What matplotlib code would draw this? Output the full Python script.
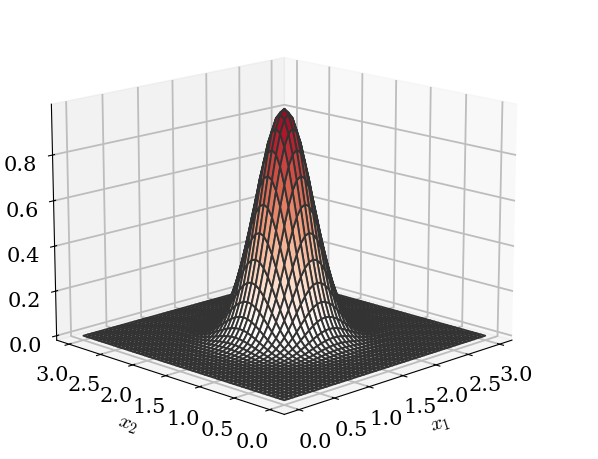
import numpy as np
import matplotlib
matplotlib.use("Agg")
import matplotlib.pyplot as plt

plt.rcParams['font.family'] = 'DejaVu Serif'
plt.rcParams['mathtext.fontset'] = 'cm'

# grid positions along x1 and x2
grid = [round(0.06 * i, 2) for i in range(51)]

# height of the bump along its centre line (centre to edge)
half_profile = [1.0, 0.98, 0.923, 0.835, 0.726, 0.607, 0.487, 0.375, 0.278, 0.198, 0.135,
                0.089, 0.056, 0.034, 0.02, 0.011, 0.006, 0.003, 0.002, 0.001, 0.0,
                0.0, 0.0, 0.0, 0.0, 0.0]
profile = half_profile[:0:-1] + half_profile

x_ticks = [0.0, 0.5, 1.0, 1.5, 2.0, 2.5, 3.0]
z_ticks = [0.0, 0.2, 0.4, 0.6, 0.8]

X1, X2 = np.meshgrid(grid, grid)
Z = np.outer(profile, profile)

fig = plt.figure(figsize=(5.98, 4.6), dpi=100)
ax = fig.add_axes([-0.086, -0.053, 1.10, 1.10], projection='3d')
ax.plot_surface(X1, X2, Z, rstride=1, cstride=1, cmap='RdGy_r', vmin=-0.9, vmax=1.1,
                edgecolor='#333333', linewidth=1.35)
ax.view_init(elev=15, azim=-135)
ax.set_xlim(-0.2, 3.2)
ax.set_ylim(-0.2, 3.2)
ax.set_zlim(-0.02, 1.02)
ax.set_xticks(x_ticks)
ax.set_yticks(x_ticks)
ax.set_zticks(z_ticks)
ax.tick_params(axis='x', labelsize=15, pad=5)
ax.tick_params(axis='y', labelsize=15, pad=5)
ax.tick_params(axis='z', labelsize=15, pad=5)
ax.set_xlabel('$x_1$', fontsize=15, labelpad=8)
ax.set_ylabel('$x_2$', fontsize=15, labelpad=8)
for axis in (ax.xaxis, ax.yaxis, ax.zaxis):
    axis._axinfo['grid']['color'] = '#bdbdbd'
    axis._axinfo['grid']['linewidth'] = 1.3

fig.savefig('out.png', dpi=100)
